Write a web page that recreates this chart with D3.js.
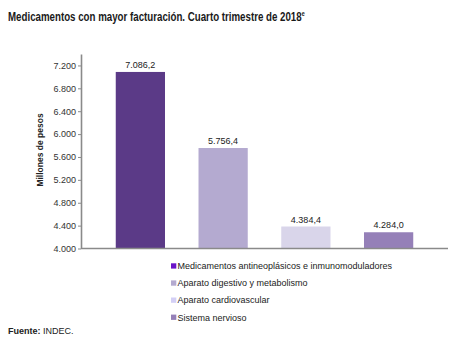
<!DOCTYPE html>
<html><head><meta charset="utf-8">
<script src="https://cdn.jsdelivr.net/npm/d3@7"></script>
<style>body{margin:0;background:#fff}svg{display:block}</style>
</head><body>
<svg id="c" width="467" height="341"></svg>
<script>
const categories = ["Medicamentos antineoplásicos e inmunomoduladores","Aparato digestivo y metabolismo","Aparato cardiovascular","Sistema nervioso"];
const values = [7086.2, 5756.4, 4384.4, 4284.0];
const barColors = ["#5b3a87","#b4aad0","#d9d5ea","#9580b8"];
const legendColors = ["#6a14c8","#b4aad0","#d3cff5","#9580b8"];
const yTicks = [4000,4400,4800,5200,5600,6000,6400,6800,7200];

const svg = d3.select("#c");
const fmt = d3.formatLocale({decimal:",",thousands:".",grouping:[3]});
const fVal = fmt.format(",.1f");

const titleG = svg.append("g");
const title = titleG.append("text").attr("x",0).attr("y",0)
  .style("font-family","'Liberation Sans',Arial,sans-serif").style("font-weight","bold").style("font-size","12.5px").attr("fill","#1a1a1a");
title.append("tspan").text("Medicamentos con mayor facturación. Cuarto trimestre de 2018");
title.append("tspan").attr("dy",-5).style("font-size","7px").text("e");
const tw = title.node().getComputedTextLength();
titleG.attr("transform",`translate(8,21) scale(${297/tw},1)`);

const y = d3.scaleLinear().domain([4000,7400]).range([248.5,54]);
const x = d3.scaleBand().domain(categories).range([81,448]).paddingInner(0.405).paddingOuter(0.42);

const yAxis = d3.axisLeft(y).tickValues(yTicks).tickSize(3).tickSizeOuter(0);
const gy = svg.append("g").attr("transform","translate(81,0)").call(yAxis);
gy.select(".domain").attr("stroke","#8a8a8a").attr("stroke-width",1.6);
gy.selectAll(".tick line").attr("stroke","#8a8a8a");
gy.selectAll(".tick text").attr("x",-5).style("font-family","'Liberation Sans',Arial,sans-serif").style("font-size","9px").attr("fill","#333");
gy.selectAll(".tick text").text(d=>fmt.format(",.0f")(d).replace(/^(\d)(\d{3})$/,"$1.$2"));

svg.append("g").selectAll("rect").data(values).join("rect")
  .attr("x",(d,i)=>x(categories[i])).attr("width",x.bandwidth())
  .attr("y",d=>y(d)).attr("height",d=>y(4000)-y(d)).attr("fill",(d,i)=>barColors[i]);

svg.append("line").attr("x1",81).attr("x2",448).attr("y1",y(4000)).attr("y2",y(4000)).attr("stroke","#8a8a8a").attr("stroke-width",1.6);

svg.append("g").selectAll("text").data(values).join("text")
  .attr("x",(d,i)=>x(categories[i])+x.bandwidth()/2).attr("y",d=>y(d)-4)
  .attr("text-anchor","middle").style("font-family","'Liberation Sans',Arial,sans-serif").style("font-size","9px").attr("fill","#222")
  .text(d=>fVal(d));

svg.append("text").attr("transform","translate(43,150) rotate(-90)").attr("text-anchor","middle")
  .style("font-family","'Liberation Sans',Arial,sans-serif").style("font-weight","bold").style("font-size","8.5px").attr("fill","#222")
  .text("Millones de pesos");

const lg = svg.append("g").selectAll("g").data(categories).join("g")
  .attr("transform",(d,i)=>`translate(171,${266+i*17.1})`);
lg.append("rect").attr("x",0).attr("y",-2.7).attr("width",5.3).attr("height",5.3).attr("fill",(d,i)=>legendColors[i]);
lg.append("text").attr("x",6.5).attr("y",3.2).style("font-family","'Liberation Sans',Arial,sans-serif").style("font-size","9px").attr("fill","#222").text(d=>d);

const src = svg.append("text").attr("x",8).attr("y",334).style("font-family","'Liberation Sans',Arial,sans-serif").style("font-size","9px").attr("fill","#222");
src.append("tspan").style("font-weight","bold").text("Fuente: ");
src.append("tspan").text("INDEC.");
</script>
</body></html>
